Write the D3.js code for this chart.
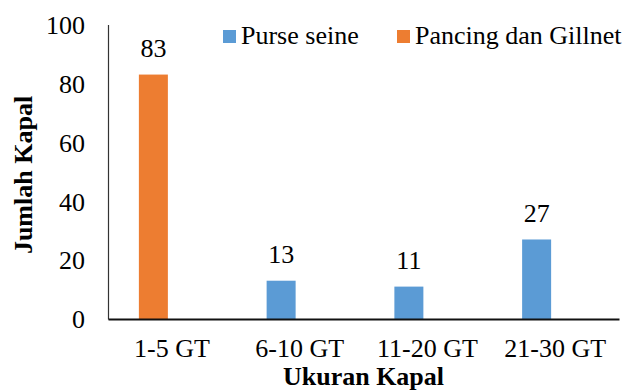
<!DOCTYPE html>
<html>
<head>
<meta charset="utf-8">
<script src="https://cdn.jsdelivr.net/npm/d3@7"></script>
<style>
  body { margin: 0; background: #fff; }
  svg text { font-family: "Liberation Serif", Tinos, "Times New Roman", Times, "DejaVu Serif", serif; fill: #000; }
</style>
</head>
<body>
<div id="chart"></div>
<script>
// chart data
var categories = ["1-5 GT", "6-10 GT", "11-20 GT", "21-30 GT"];
var values = [83, 13, 11, 27];
var barSeries = ["Pancing dan Gillnet", "Purse seine", "Purse seine", "Purse seine"];
var seriesNames = ["Purse seine", "Pancing dan Gillnet"];
var seriesColors = ["#5b9bd5", "#ed7d31"];
var yTicks = [0, 20, 40, 60, 80, 100];

var width = 628, height = 392;
var serif = "'Liberation Serif', Tinos, 'Times New Roman', Times, 'DejaVu Serif', serif";

var svg = d3.select("#chart").append("svg")
    .attr("width", width)
    .attr("height", height)
    .attr("font-family", serif);

var xScale = d3.scaleBand()
    .domain(categories)
    .range([108, 619]);

// each bar sits in the left slot of its group
var slot = d3.scaleBand()
    .domain(["left", "right"])
    .range([xScale.bandwidth() / 2 - 33, xScale.bandwidth() / 2 + 25])
    .paddingInner(0);

var yScale = d3.scaleLinear()
    .domain([0, 100])
    .range([319, 24.5]);

var color = d3.scaleOrdinal().domain(seriesNames).range(seriesColors);

// bars
svg.selectAll(".bar")
    .data(values)
  .enter()
    .append("rect")
    .attr("class", "bar")
    .attr("x", function(d, i) { return xScale(categories[i]) + slot("left"); })
    .attr("width", slot.bandwidth())
    .attr("y", function(d) { return yScale(d); })
    .attr("height", function(d) { return yScale(0) - yScale(d); })
    .style("fill", function(d, i) { return color(barSeries[i]); });

// value labels
svg.selectAll(".valueLabel")
    .data(values)
  .enter()
    .append("text")
    .attr("class", "valueLabel")
    .attr("text-anchor", "middle")
    .attr("x", function(d, i) { return xScale(categories[i]) + slot("left") + slot.bandwidth() / 2; })
    .attr("y", function(d) { return yScale(d) - 17.5; })
    .style("font-family", serif)
    .style("font-size", "26px")
    .text(function(d) { return d; });

// y axis
var yAxis = d3.axisLeft(yScale)
    .tickValues(yTicks)
    .tickSize(0)
    .tickPadding(23);

var gy = svg.append("g")
    .attr("class", "y axis")
    .attr("transform", "translate(108,0)")
    .call(yAxis)
    .attr("font-family", serif);
gy.select(".domain").attr("stroke", "#333").attr("stroke-width", 1.2);
gy.selectAll("text")
    .style("font-size", "26px")
    .style("font-family", serif)
    .attr("dy", "0.34em");

// x axis
var xAxis = d3.axisBottom(xScale)
    .tickSize(0)
    .tickPadding(20);

var gx = svg.append("g")
    .attr("class", "x axis")
    .attr("transform", "translate(0," + yScale(0) + ")")
    .call(xAxis)
    .attr("font-family", serif);
gx.select(".domain").attr("stroke", "#111").attr("stroke-width", 2);
gx.selectAll("text")
    .style("font-size", "26px")
    .style("font-family", serif)
    .attr("dy", "0.71em");

// axis titles
svg.append("text")
    .attr("text-anchor", "middle")
    .attr("transform", "translate(32,175) rotate(-90)")
    .style("font-family", serif)
    .style("font-size", "26px")
    .style("font-weight", "bold")
    .text("Jumlah Kapal");

svg.append("text")
    .attr("text-anchor", "middle")
    .attr("x", (108 + 619) / 2)
    .attr("y", 385)
    .style("font-family", serif)
    .style("font-size", "26px")
    .style("font-weight", "bold")
    .text("Ukuran Kapal");

// legend
var legendX = [223, 397];
var legend = svg.selectAll(".legendItem")
    .data(seriesNames)
  .enter()
    .append("g")
    .attr("class", "legendItem")
    .attr("transform", function(d, i) { return "translate(" + legendX[i] + ",0)"; });

legend.append("rect")
    .attr("x", 0)
    .attr("y", 30)
    .attr("width", 13)
    .attr("height", 13)
    .style("fill", function(d) { return color(d); });

legend.append("text")
    .attr("x", 18)
    .attr("y", 44)
    .style("font-family", serif)
    .style("font-size", "26px")
    .text(function(d) { return d; });
</script>
</body>
</html>
